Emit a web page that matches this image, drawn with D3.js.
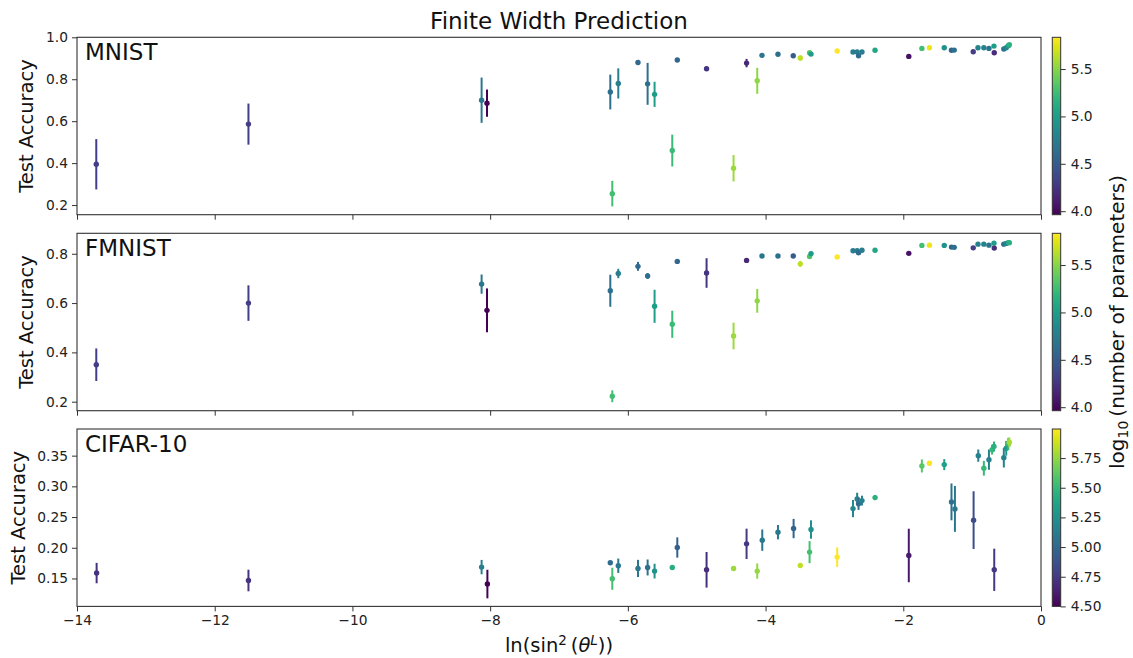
<!DOCTYPE html>
<html>
<head>
<meta charset="utf-8">
<script src="https://cdn.jsdelivr.net/npm/d3@7"></script>
<style>
  body { margin: 0; background: #fff; }
  svg, svg text { font-family: "DejaVu Sans", sans-serif; }
  .tick text { fill: #222; font-size: 13.8px; font-family: "DejaVu Sans", sans-serif; }
  .tick line { stroke: #333; }
</style>
</head>
<body>
<div id="chart"></div>
<script>
// shared x positions (MNIST / FMNIST runs)
const xMnist = [-13.72, -11.51, -8.124, -8.046, -6.255, -6.226, -6.139, -5.853, -5.713, -5.612,
  -5.355, -5.282, -4.857, -4.465, -4.276, -4.121, -4.052, -3.82, -3.598, -3.496,
  -3.361, -3.34, -2.96, -2.73, -2.67, -2.65, -2.60, -2.41, -1.92, -1.73,
  -1.62, -1.405, -1.30, -1.26, -0.984, -0.915, -0.83, -0.756, -0.683, -0.679,
  -0.54, -0.505, -0.475, -0.46];
const paramsMnist = [4.3, 4.3, 4.7, 3.97, 4.65, 5.27, 4.75, 4.6, 4.65, 5.0,
  5.23, 4.58, 4.25, 5.55, 4.18, 5.52, 4.7, 4.65, 4.5, 5.65,
  5.31, 4.99, 5.83, 4.75, 4.75, 4.6, 4.75, 5.08, 4.05, 5.27,
  5.78, 4.93, 4.55, 4.65, 4.3, 4.8, 4.8, 4.7, 5.0, 4.2,
  4.65, 4.8, 5.0, 5.15];

const accMnist = [0.3945, 0.586, 0.700, 0.686, 0.739, 0.2545, 0.780, 0.880, 0.778, 0.728,
  0.46, 0.8915, 0.85, 0.3754, 0.877, 0.7926, 0.914, 0.919, 0.912, 0.901,
  0.926, 0.92, 0.9345, 0.93, 0.93, 0.912, 0.93, 0.938, 0.909, 0.947,
  0.95, 0.95, 0.938, 0.939, 0.931, 0.95, 0.95, 0.947, 0.958, 0.926,
  0.944, 0.95, 0.96, 0.965];
const errMnist = [0.12, 0.098, 0.108, 0.065, 0.083, 0.061, 0.072, 0.008, 0.1, 0.06,
  0.076, 0.006, 0.01, 0.063, 0.02, 0.062, 0.005, 0.005, 0.006, 0.012,
  0.006, 0.006, 0.004, 0.005, 0.005, 0.006, 0.005, 0.004, 0.005, 0.004,
  0.004, 0.004, 0.004, 0.004, 0.004, 0.004, 0.004, 0.004, 0.004, 0.005,
  0.004, 0.004, 0.004, 0.004];

const accFmnist = [0.35, 0.60, 0.677, 0.5705, 0.65, 0.222, 0.72, 0.749, 0.7096, 0.587,
  0.514, 0.769, 0.722, 0.4664, 0.773, 0.609, 0.791, 0.791, 0.791, 0.759,
  0.789, 0.80, 0.787, 0.812, 0.812, 0.804, 0.814, 0.814, 0.8015, 0.834,
  0.835, 0.834, 0.827, 0.826, 0.824, 0.839, 0.839, 0.835, 0.843, 0.823,
  0.839, 0.842, 0.845, 0.845];
const errFmnist = [0.066, 0.072, 0.039, 0.089, 0.065, 0.024, 0.019, 0.018, 0.012, 0.067,
  0.055, 0.005, 0.06, 0.054, 0.006, 0.048, 0.005, 0.005, 0.005, 0.012,
  0.005, 0.005, 0.004, 0.005, 0.005, 0.005, 0.004, 0.005, 0.004, 0.004,
  0.004, 0.004, 0.004, 0.004, 0.004, 0.004, 0.004, 0.004, 0.004, 0.004,
  0.004, 0.004, 0.004, 0.004];

const xCifar = [-13.715, -11.51, -8.124, -8.04, -6.255, -6.226, -6.139, -5.853, -5.713, -5.612,
  -5.355, -5.282, -4.857, -4.465, -4.276, -4.121, -4.048, -3.82, -3.593, -3.496,
  -3.361, -3.34, -2.96, -2.73, -2.67, -2.65, -2.60, -2.41, -1.92, -1.73,
  -1.62, -1.405, -1.30, -1.25, -0.979, -0.911, -0.83, -0.756, -0.71, -0.683,
  -0.679, -0.54, -0.505, -0.475, -0.46];
const accCifar = [0.1588, 0.1467, 0.1685, 0.1409, 0.1755, 0.1495, 0.1707, 0.1663, 0.1679, 0.162,
  0.1679, 0.2004, 0.1641, 0.1663, 0.2064, 0.162, 0.2124, 0.2254, 0.2313, 0.1711,
  0.1929, 0.2297, 0.1848, 0.2638, 0.2796, 0.2715, 0.2768, 0.2817, 0.1874, 0.3332,
  0.3376, 0.3354, 0.2747, 0.2633, 0.245, 0.35, 0.3295, 0.3435, 0.3598, 0.365,
  0.1641, 0.3467, 0.362, 0.369, 0.3717];
const errCifar = [0.0166, 0.0176, 0.0117, 0.0233, 0.003, 0.018, 0.0117, 0.014, 0.013, 0.012,
  0.002, 0.0165, 0.029, 0.002, 0.0247, 0.0125, 0.0174, 0.0117, 0.0157, 0.002,
  0.018, 0.015, 0.016, 0.014, 0.01, 0.0098, 0.008, 0.004, 0.0436, 0.0106,
  0.002, 0.009, 0.03, 0.0374, 0.047, 0.01, 0.012, 0.0165, 0.008, 0.008,
  0.0344, 0.016, 0.012, 0.01, 0.008];
const paramsCifar = [4.72, 4.72, 5.13, 4.5, 5.02, 5.55, 5.1, 5.1, 5.05, 5.25,
  5.43, 4.95, 4.7, 5.77, 4.75, 5.75, 5.1, 5.1, 4.98, 5.85,
  5.55, 5.25, 5.99, 5.2, 5.15, 5.02, 5.15, 5.45, 4.6, 5.6,
  5.98, 5.35, 5.05, 5.1, 4.85, 5.15, 5.5, 5.15, 5.5, 5.45,
  4.75, 5.15, 5.3, 5.5, 5.8];

const xTicks = [-14, -12, -10, -8, -6, -4, -2, 0];
const yTicksMnist = [0.2, 0.4, 0.6, 0.8, 1.0];
const yTicksFmnist = [0.2, 0.4, 0.6, 0.8];
const yTicksCifar = [0.15, 0.20, 0.25, 0.30, 0.35];
const cTicksMnist = [4.0, 4.5, 5.0, 5.5];
const cTicksCifar = [4.50, 4.75, 5.00, 5.25, 5.50, 5.75];

const panels = [
  { name: "MNIST", x: xMnist, acc: accMnist, err: errMnist, params: paramsMnist,
    yDom: [0.154, 1.0], yTicks: yTicksMnist, yFmt: ".1f", cDom: [3.963, 5.835], cTicks: cTicksMnist, cFmt: ".1f", labX: 33 },
  { name: "FMNIST", x: xMnist, acc: accFmnist, err: errFmnist, params: paramsMnist,
    yDom: [0.1635, 0.883], yTicks: yTicksFmnist, yFmt: ".1f", cDom: [3.963, 5.835], cTicks: cTicksMnist, cFmt: ".1f", labX: 33 },
  { name: "CIFAR-10", x: xCifar, acc: accCifar, err: errCifar, params: paramsCifar,
    yDom: [0.1045, 0.3934], yTicks: yTicksCifar, yFmt: ".2f", cDom: [4.5, 5.995], cTicks: cTicksCifar, cFmt: ".2f", labX: 25 }
];

const W = 1133, H = 658;
const left = 77, right = 1041, ph = 177.4;
const tops = [37.3, 233.3, 429];
const cbX = 1052.3, cbW = 8.4;

const svg = d3.select("#chart").append("svg")
  .attr("width", W).attr("height", H);

const x = d3.scaleLinear().domain([-14, 0]).range([left, right]);

// viridis gradient for colorbars
const defs = svg.append("defs");
const grad = defs.append("linearGradient").attr("id", "viridis")
  .attr("x1", 0).attr("y1", 1).attr("x2", 0).attr("y2", 0);
d3.range(0, 1.0001, 0.02).forEach(t => {
  grad.append("stop").attr("offset", t).attr("stop-color", d3.interpolateViridis(t));
});

svg.append("text")
  .attr("x", (left + right) / 2).attr("y", 29.3)
  .attr("text-anchor", "middle")
  .style("font-size", "23px").attr("fill", "#111")
  .text("Finite Width Prediction");

panels.forEach((p, i) => {
  const top = tops[i];
  const y = d3.scaleLinear().domain(p.yDom).range([top + ph, top]);
  const c = d3.scaleSequential(d3.interpolateViridis).domain(p.cDom);
  const g = svg.append("g");

  // y axis
  g.append("g")
    .attr("transform", `translate(${left},0)`)
    .call(d3.axisLeft(y).tickValues(p.yTicks).tickFormat(d3.format(p.yFmt)).tickSize(5).tickPadding(4))
    .call(a => a.select(".domain").remove());

  // x axis (labels only on last)
  g.append("g")
    .attr("transform", `translate(0,${top + ph})`)
    .call(d3.axisBottom(x).tickValues(xTicks).tickSize(5).tickPadding(4)
      .tickFormat(i === 2 ? d3.format("d") : () => ""))
    .call(a => a.select(".domain").remove());

  // frame
  g.append("rect")
    .attr("x", left).attr("y", top).attr("width", right - left).attr("height", ph)
    .attr("fill", "none").attr("stroke", "#333").attr("stroke-width", 1.1);

  g.append("text")
    .attr("transform", `translate(${p.labX},${top + ph / 2}) rotate(-90)`)
    .attr("text-anchor", "middle")
    .style("font-size", "19.5px").attr("fill", "#111")
    .text("Test Accuracy");

  g.append("text")
    .attr("x", 85).attr("y", top + 22.8)
    .style("font-size", "23px").attr("fill", "#111")
    .text(p.name);

  const pts = p.x.map((v, k) => ({ x: v, acc: p.acc[k], err: p.err[k], par: p.params[k] }));

  const marks = g.append("g").selectAll("g").data(pts).join("g");
  marks.append("line")
    .attr("x1", d => x(d.x)).attr("x2", d => x(d.x))
    .attr("y1", d => y(d.acc - d.err)).attr("y2", d => y(d.acc + d.err))
    .attr("stroke", d => c(d.par)).attr("stroke-width", 2);
  marks.append("circle")
    .attr("cx", d => x(d.x)).attr("cy", d => y(d.acc)).attr("r", 2.7)
    .attr("fill", d => c(d.par));

  // colorbar
  const cy = d3.scaleLinear().domain(p.cDom).range([top + ph, top]);
  g.append("rect")
    .attr("x", cbX).attr("y", top).attr("width", cbW).attr("height", ph)
    .attr("fill", "url(#viridis)").attr("stroke", "#333").attr("stroke-width", 1);
  g.append("g")
    .attr("transform", `translate(${cbX + cbW},0)`)
    .call(d3.axisRight(cy).tickValues(p.cTicks).tickFormat(d3.format(p.cFmt)).tickSize(5).tickPadding(5))
    .call(a => a.select(".domain").remove());
});

// x label
const xl = svg.append("text")
  .attr("x", (left + right) / 2).attr("y", 652)
  .attr("text-anchor", "middle")
  .style("font-size", "19.5px").attr("fill", "#111");
xl.append("tspan").text("ln(sin");
xl.append("tspan").attr("dy", -7).style("font-size", "13.5px").text("2");
xl.append("tspan").attr("dy", 7).text("\u2009(");
xl.append("tspan").style("font-style", "italic").text("θ");
xl.append("tspan").attr("dy", -7).style("font-size", "13.5px").style("font-style", "italic").text("L");
xl.append("tspan").attr("dy", 7).text("))");

// colorbar label
const cl = svg.append("text")
  .attr("transform", `translate(1123.5,${tops[1] + ph / 2}) rotate(-90)`)
  .attr("text-anchor", "middle")
  .style("font-size", "20px").attr("fill", "#111");
cl.append("tspan").text("log");
cl.append("tspan").attr("dy", 4).style("font-size", "14px").text("10");
cl.append("tspan").attr("dy", -4).text("\u2009(number of parameters)");
</script>
</body>
</html>
